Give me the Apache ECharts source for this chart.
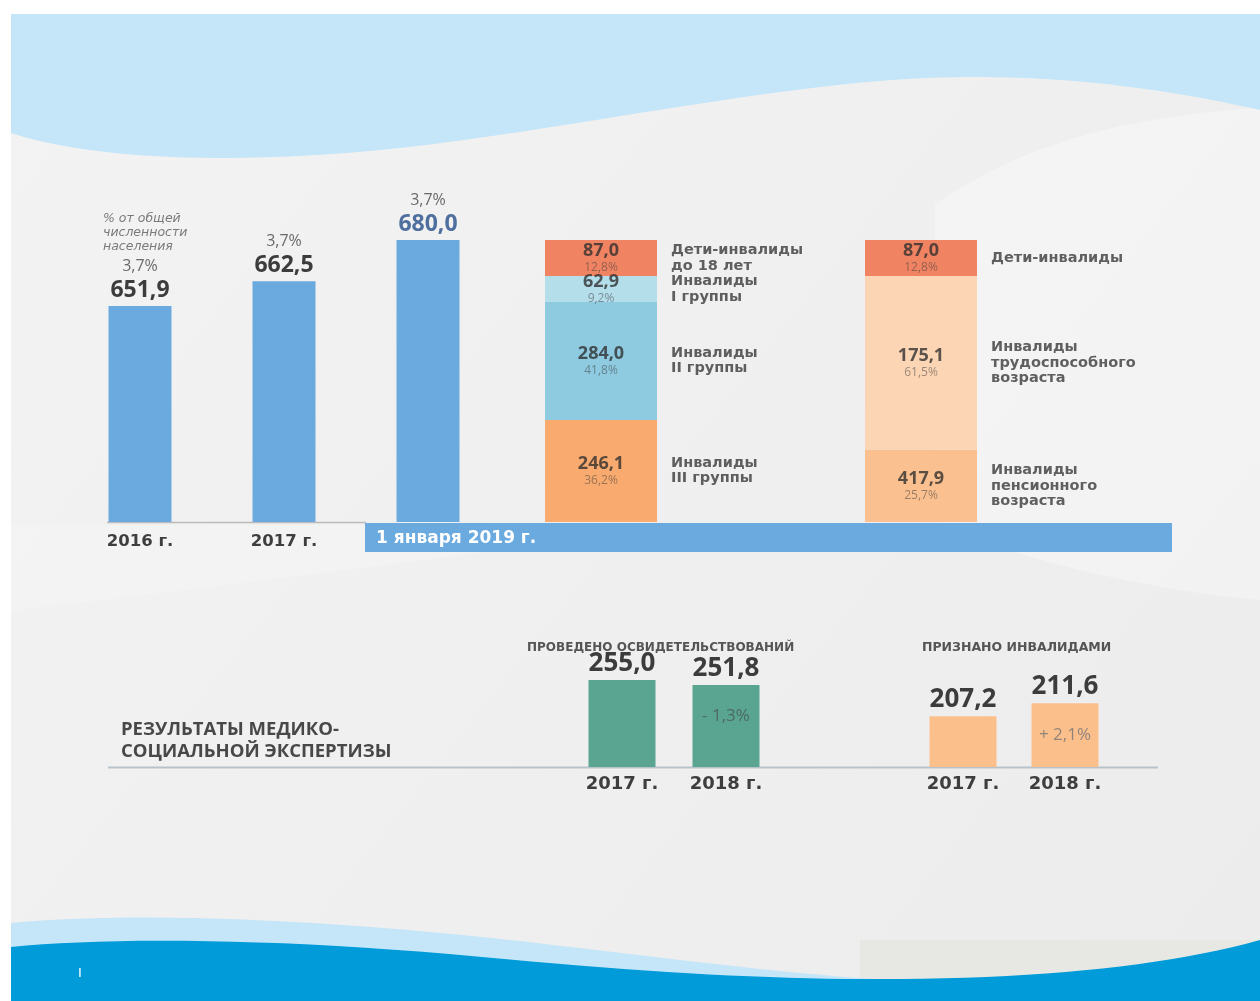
<!DOCTYPE html>
<html lang="ru">
<head>
<meta charset="utf-8">
<title>Инвалиды</title>
<script src="https://cdn.jsdelivr.net/npm/echarts@6/dist/echarts.min.js"></script>
<style>
  html, body { margin: 0; padding: 0; background: #fff; }
  #chart { width: 1260px; height: 1001px; }
</style>
</head>
<body>
<div id="chart"></div>
<script>
// численность инвалидов, тыс. человек
const years = ['2016 г.', '2017 г.', '2019 г.'];
const totals = [651.9, 662.5, 680.0];
const totalShares = ['3,7%', '3,7%', '3,7%'];

// структура на 1 января 2019 г. (снизу вверх)
const groupNames = ['Инвалиды\nIII группы', 'Инвалиды\nII группы', 'Инвалиды\nI группы', 'Дети-инвалиды\nдо 18 лет'];
const groupValues = [246.1, 284.0, 62.9, 87.0];
const groupShares = [36.2, 41.8, 9.2, 12.8];
const ageNames = ['Инвалиды\nпенсионного\nвозраста', 'Инвалиды\nтрудоспособного\nвозраста', 'Дети-инвалиды'];
const ageValues = [417.9, 175.1, 87.0];
const ageShares = [25.7, 61.5, 12.8];

// результаты МСЭ, тыс.
const mseYears = ['2017 г.', '2018 г.'];
const examined = [255.0, 251.8];
const examinedChange = '- 1,3%';
const recognized = [207.2, 211.6];
const recognizedChange = '+ 2,1%';

const groupColors = ['#f9ab6f', '#8ecae0', '#b4deea', '#f08462'];
const ageColors = ['#fbc08f', '#fcd5b4', '#f08462'];

const fmt = v => v.toFixed(1).replace('.', ',');
const pct = v => fmt(v) + '%';
const numFont = '"Open Sans", sans-serif';
const wideFont = '"DejaVu Sans", sans-serif';

const chart = echarts.init(document.getElementById('chart'));

// svg-like path (M L H V C Z) -> polygon points, for the decorative waves
function pts(d) {
  const tok = d.match(/[MLHVCZ]|-?\d+(?:\.\d+)?/g);
  const out = [];
  let x = 0, y = 0, cmd = 'M', i = 0;
  while (i < tok.length) {
    if (/[MLHVCZ]/.test(tok[i])) { cmd = tok[i++]; if (cmd === 'Z') continue; }
    if (cmd === 'M' || cmd === 'L') { x = +tok[i++]; y = +tok[i++]; out.push([x, y]); }
    else if (cmd === 'H') { x = +tok[i++]; out.push([x, y]); }
    else if (cmd === 'V') { y = +tok[i++]; out.push([x, y]); }
    else if (cmd === 'C') {
      const c = tok.slice(i, i + 6).map(Number); i += 6;
      for (let k = 1; k <= 20; k++) {
        const t = k / 20, u = 1 - t;
        out.push([
          u * u * u * x + 3 * u * u * t * c[0] + 3 * u * t * t * c[2] + t * t * t * c[4],
          u * u * u * y + 3 * u * u * t * c[1] + 3 * u * t * t * c[3] + t * t * t * c[5],
        ]);
      }
      x = c[4]; y = c[5];
    } else i++;
  }
  return out;
}
const wave = (d, fill) => ({ type: 'polygon', z: 0, shape: { points: pts(d) }, style: { fill } });

// середины сегментов — для подписей справа от столбцов
function mids(shares) {
  let acc = 0;
  return shares.map(s => { const m = acc + s / 2; acc += s; return m; });
}
const nameLabels = [
  ...mids(groupShares).map((m, i) => ({ name: groupNames[i], value: [0, m] })),
  ...mids(ageShares).map((m, i) => ({ name: ageNames[i], value: [1, m] })),
];

const stackSeries = groupShares.map((share, i) => ({
  type: 'bar',
  xAxisIndex: 1, yAxisIndex: 1,
  stack: 'all',
  barWidth: 112,
  data: [share, i < ageShares.length ? ageShares[i] : '-'],
  itemStyle: { color: p => [groupColors, ageColors][p.dataIndex][i] },
  label: {
    show: true,
    position: 'inside',
    formatter: p => {
      const vals = [groupValues, ageValues][p.dataIndex];
      return `{v|${fmt(vals[i])}}\n{s|${pct(p.value)}}`;
    },
    rich: {
      v: { fontFamily: numFont, fontSize: 18, fontWeight: 'bold', color: 'rgba(45,45,45,0.78)', lineHeight: 19 },
      s: { fontFamily: numFont, fontSize: 12, color: 'rgba(60,60,60,0.5)', lineHeight: 14 },
    },
  },
}));

const axisOff = { show: false };
function catAxis(gridIndex, data, labels) {
  return {
    type: 'category', gridIndex, data,
    axisLine: { show: false }, axisTick: { show: false },
    axisLabel: labels,
  };
}
const yearLabel = { margin: 8, fontFamily: wideFont, fontSize: 18, fontWeight: 'bold', color: '#3e3e3e' };

const option = {
  backgroundColor: '#ffffff',
  animation: false,
  grid: [
    { left: 68, width: 432, top: 193, height: 329 },
    { left: 441, width: 640, top: 240, height: 282 },
    { left: 570, width: 208, top: 672, height: 95 },
    { left: 912, width: 204, top: 678.5, height: 88.5 },
  ],
  xAxis: [
    catAxis(0, years, {
      margin: 11, fontFamily: wideFont, fontSize: 16.5, fontWeight: 'bold', color: '#3e3e3e',
      formatter: (v, i) => (i < 2 ? v : ''),
    }),
    catAxis(1, ['по группам', 'по возрасту'], { show: false }),
    catAxis(2, mseYears, yearLabel),
    catAxis(3, mseYears, yearLabel),
  ],
  yAxis: [
    { type: 'value', gridIndex: 0, min: 560, max: 700, ...axisOff },
    { type: 'value', gridIndex: 1, min: 0, max: 100, ...axisOff },
    { type: 'value', gridIndex: 2, min: 200, max: 260, ...axisOff },
    { type: 'value', gridIndex: 3, min: 190, max: 220, ...axisOff },
  ],
  graphic: [
    // фон
    { type: 'rect', z: 0, shape: { x: 11, y: 14, width: 1249, height: 987 },
      style: { fill: new echarts.graphic.LinearGradient(0, 0, 1, 1, [
        { offset: 0, color: '#f3f3f3' }, { offset: 1, color: '#ececec' }]) } },
    wave('M935,205 C1010,150 1120,115 1260,108 L1260,600 C1150,590 1010,560 935,520 Z', 'rgba(255,255,255,0.3)'),
    wave('M11,610 C200,590 420,560 620,535 L620,525 L11,525 Z', 'rgba(255,255,255,0.2)'),
    wave('M11,14 H1260 V110 C1180,92 1080,76 965,77 C800,78 600,125 400,148 C250,164 100,162 11,133 Z', '#c5e5f8'),
    { type: 'rect', z: 0, shape: { x: 860, y: 940, width: 400, height: 45 }, style: { fill: '#e7e7e3' } },
    wave('M11,923 C120,912 300,918 482,937 C640,954 760,972 900,981 L11,1001 Z', '#c5e5f8'),
    wave('M11,947 C110,937 280,938 482,957 C650,973 780,980 900,979 C1050,978 1170,965 1260,940 V1001 H11 Z', '#009bd8'),
    { type: 'text', z: 50, x: 78, y: 967, style: { text: 'I', font: '13px ' + wideFont, fill: '#ffffff' } },
    // ось и полоса даты
    { type: 'line', z: 1, shape: { x1: 107, y1: 522.5, x2: 366, y2: 522.5 }, style: { stroke: '#bcbcbc', lineWidth: 1.5 } },
    { type: 'rect', z: 1, shape: { x: 365, y: 523, width: 807, height: 29 }, style: { fill: '#6aaadf' } },
    { type: 'text', z: 50, x: 376, y: 539, style: { text: '1 января 2019 г.', font: 'bold 17px ' + wideFont, fill: '#ffffff', verticalAlign: 'middle' } },
    { type: 'line', z: 1, shape: { x1: 108, y1: 767.5, x2: 1158, y2: 767.5 }, style: { stroke: '#b7c3cb', lineWidth: 2 } },
    // подписи
    { type: 'text', z: 50, x: 103, y: 212, style: { text: '% от общей\nчисленности\nнаселения', font: 'italic 12.5px ' + wideFont, fill: '#7a7a7a', lineHeight: 14 } },
    { type: 'text', z: 50, x: 121, y: 719, style: { text: 'РЕЗУЛЬТАТЫ МЕДИКО-\nСОЦИАЛЬНОЙ ЭКСПЕРТИЗЫ', font: 'bold 18.5px ' + numFont, fill: '#484848', lineHeight: 22 } },
    { type: 'text', z: 50, x: 527, y: 648, style: { text: 'ПРОВЕДЕНО ОСВИДЕТЕЛЬСТВОВАНИЙ', font: 'bold 12px ' + wideFont, fill: '#555', verticalAlign: 'middle' } },
    { type: 'text', z: 50, x: 922, y: 648, style: { text: 'ПРИЗНАНО ИНВАЛИДАМИ', font: 'bold 12.5px ' + wideFont, fill: '#555', verticalAlign: 'middle' } },
  ],
  series: [
    {
      type: 'bar', xAxisIndex: 0, yAxisIndex: 0,
      barWidth: 63,
      data: totals,
      itemStyle: { color: '#6aaadf' },
      label: {
        show: true, position: 'top', distance: 3,
        formatter: p => `{p|${totalShares[p.dataIndex]}}\n{${p.dataIndex === 2 ? 'vb' : 'v'}|${fmt(p.value)}}`,
        rich: {
          p: { fontFamily: numFont, fontSize: 16, color: '#6a6a6a', lineHeight: 22 },
          v: { fontFamily: numFont, fontSize: 23, fontWeight: 'bold', color: '#3c3c3c', lineHeight: 26 },
          vb: { fontFamily: numFont, fontSize: 23, fontWeight: 'bold', color: '#4f6f9f', lineHeight: 26 },
        },
      },
    },
    ...stackSeries,
    {
      type: 'scatter', xAxisIndex: 1, yAxisIndex: 1,
      symbolSize: 0,
      data: nameLabels,
      label: {
        show: true, position: 'right', distance: 70,
        formatter: '{b}', align: 'left',
        fontFamily: wideFont, fontSize: 14.5, fontWeight: 'bold', color: '#3a3a3a', lineHeight: 15.5,
      },
    },
    {
      type: 'bar', xAxisIndex: 2, yAxisIndex: 2,
      barWidth: 67,
      data: examined,
      itemStyle: { color: '#5aa592' },
      label: { show: true, position: 'top', distance: 3, formatter: p => fmt(p.value),
        fontFamily: numFont, fontSize: 26, fontWeight: 'bold', color: '#3c3c3c' },
    },
    {
      type: 'scatter', xAxisIndex: 2, yAxisIndex: 2,
      symbolSize: 0,
      data: [[1, examined[1]]],
      label: { show: true, position: 'bottom', distance: 23, formatter: examinedChange,
        fontFamily: numFont, fontSize: 17, color: '#4a5a55' },
    },
    {
      type: 'bar', xAxisIndex: 3, yAxisIndex: 3,
      barWidth: 67,
      data: recognized,
      itemStyle: { color: '#fbbf8c' },
      label: { show: true, position: 'top', distance: 4, formatter: p => fmt(p.value),
        fontFamily: numFont, fontSize: 26, fontWeight: 'bold', color: '#3c3c3c' },
    },
    {
      type: 'scatter', xAxisIndex: 3, yAxisIndex: 3,
      symbolSize: 0,
      data: [[1, recognized[1]]],
      label: { show: true, position: 'bottom', distance: 23, formatter: recognizedChange,
        fontFamily: numFont, fontSize: 17, color: '#777' },
    },
  ],
};

chart.setOption(option);
</script>
</body>
</html>
